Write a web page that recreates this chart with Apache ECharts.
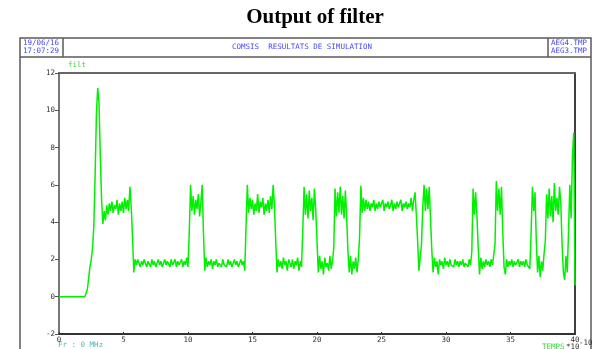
<!DOCTYPE html>
<html>
<head>
<meta charset="utf-8">
<title>Output of filter</title>
<script src="https://cdn.jsdelivr.net/npm/echarts@6/dist/echarts.min.js"></script>
<style>
  html,body{margin:0;padding:0;background:#fff;}
  #main{width:610px;height:349px;}
</style>
</head>
<body>
<div id="main"></div>
<script>
// axis ticks
var yTicks = [-2, 0, 2, 4, 6, 8, 10, 12];
var xTicks = [0, 5, 10, 15, 20, 25, 30, 35, 40];
// header texts
var headLeft = ['19/06/16', '17:07:29'];
var headRight = ['AEG4.TMP', 'AEG3.TMP'];
// one sample every 0.1 (x 1e-10 s)
var dt = 0.1;
var filt = [
  0,0,0,0,0,0,0,0,0,0,
  0,0,0,0,0,0,0,0,0,0,
  0,0,0.4,1.0,1.6,2.0,2.6,3.8,6.5,9.8,
  11.2,10.4,7.6,5.2,3.9,4.6,4.1,4.9,4.4,5.0,
  4.6,5.1,4.5,4.9,4.7,5.2,4.4,5.0,4.6,5.1,
  4.5,5.3,4.7,5.2,4.6,5.9,4.8,3.2,1.3,2.0,
  1.7,2.0,1.8,1.6,1.9,1.7,2.0,1.8,1.6,1.9,
  1.8,1.6,2.0,1.7,1.9,1.6,1.8,2.0,1.7,1.9,
  1.6,1.8,2.0,1.7,1.9,1.8,1.6,2.0,1.7,1.8,
  2.0,1.6,1.9,1.7,1.8,2.0,1.6,1.9,1.7,2.1,
  1.6,3.5,6.0,4.6,5.4,4.4,5.2,4.7,5.5,4.3,
  5.1,6.0,3.4,1.4,2.1,1.6,1.9,1.7,2.0,1.5,
  1.9,1.7,2.0,1.6,1.8,1.9,1.6,2.0,1.7,1.8,
  1.6,2.0,1.7,1.9,1.6,1.8,2.0,1.7,1.9,1.6,
  1.8,2.0,1.7,1.9,1.4,3.8,6.0,4.5,5.3,4.7,
  5.2,4.4,5.0,4.6,5.5,4.5,5.1,4.8,5.3,4.4,
  5.0,4.6,5.2,4.5,5.4,4.7,6.0,4.9,3.0,1.3,
  2.0,1.6,1.9,1.5,2.1,1.7,1.9,1.4,2.0,1.8,
  1.6,2.0,1.5,1.9,1.7,2.1,1.4,1.9,1.6,3.6,
  5.9,4.4,5.5,4.2,5.7,4.6,5.3,4.1,5.8,4.7,
  3.0,1.3,2.2,1.5,1.9,1.2,2.1,1.6,1.8,1.4,
  2.2,1.5,1.9,2.6,5.8,4.3,5.6,4.5,5.9,4.4,
  5.4,4.2,5.7,4.3,2.4,1.3,2.2,1.2,1.9,1.5,
  2.1,1.3,2.0,3.2,5.95,4.5,5.3,4.6,5.2,4.7,
  5.1,4.6,5.0,4.8,5.2,4.6,5.0,4.7,5.1,4.8,
  4.9,5.2,4.6,5.0,4.8,5.1,4.7,4.9,5.2,4.6,
  5.0,4.7,5.1,4.8,4.9,5.2,4.6,5.0,4.8,5.1,
  4.7,5.0,4.8,5.3,4.6,5.2,5.6,4.4,3.0,1.4,
  1.3,2.8,4.8,6.0,4.6,5.8,4.7,5.9,4.2,2.5,
  1.3,2.1,1.6,1.9,1.2,2.0,1.7,1.9,1.5,2.1,
  1.7,1.9,1.6,2.0,1.7,1.8,1.6,2.0,1.7,1.9,
  1.6,1.9,1.7,2.0,1.6,1.8,1.9,1.6,2.0,1.7,
  2.4,5.8,4.4,5.6,4.3,2.6,1.2,2.1,1.5,1.9,
  1.6,2.0,1.7,1.9,1.6,2.0,1.7,1.8,2.8,6.2,
  4.6,5.8,4.4,5.9,3.5,1.6,1.2,2.0,1.6,1.9,
  1.7,2.0,1.6,1.9,1.7,1.8,2.0,1.6,1.9,1.7,
  1.9,1.6,2.0,1.7,1.8,1.5,3.5,5.9,4.6,5.6,
  3.0,1.3,2.2,1.05,1.9,1.4,2.3,3.0,5.5,4.2,
  5.8,4.3,5.4,4.0,6.1,4.6,5.3,4.4,5.9,5.0,
  2.8,1.3,0.9,2.2,1.3,3.5,6.0,4.2,7.5,8.8,
  0.6
];

var pts = [];
for (var i = 0; i < filt.length; i++) {
  pts.push([Math.round(i * dt * 10) / 10, filt[i]]);
}

var mono = 'DejaVu Sans Mono';
var frame = '#5a5a5a';
var blue = '#4646ff';
var myChart = echarts.init(document.getElementById('main'));

// small mono text, anchored at x/y
function smallText(x, y, txt, color, align) {
  return {
    type: 'text', x: x, y: y, silent: true,
    style: {text: txt, fill: color, font: '7.5px "' + mono + '"', align: align || 'left', verticalAlign: 'middle'}
  };
}

var graphics = [
  // title
  {type: 'text', x: 315, y: 18, silent: true,
   style: {text: 'Output of filter', fill: '#000', font: 'bold 21px "Liberation Serif"', align: 'center', verticalAlign: 'middle'}},
  // outer frame + header
  {type: 'polyline', silent: true, shape: {points: [[20, 349], [20, 38], [591, 38], [591, 349]]},
   style: {stroke: frame, lineWidth: 1.5, fill: null}},
  {type: 'line', silent: true, shape: {x1: 20, y1: 57, x2: 591, y2: 57}, style: {stroke: frame, lineWidth: 1.5}},
  {type: 'line', silent: true, shape: {x1: 63, y1: 38, x2: 63, y2: 57}, style: {stroke: frame, lineWidth: 1.5}},
  {type: 'line', silent: true, shape: {x1: 548, y1: 38, x2: 548, y2: 57}, style: {stroke: frame, lineWidth: 1.5}},
  smallText(23, 43, headLeft[0], blue),
  smallText(23, 51, headLeft[1], blue),
  smallText(302, 47, 'COMSIS  RESULTATS DE SIMULATION', blue, 'center'),
  smallText(551, 43, headRight[0], blue),
  smallText(551, 51, headRight[1], blue),
  // series / axis names
  smallText(68, 65, 'filt', '#33dd33'),
  smallText(58, 345, 'Fr : 0 MHz', '#44bbbb'),
  smallText(542, 347, 'TEMPS', '#33dd33'),
  smallText(566, 347, '*10', '#333'),
  smallText(579, 343, '-10', '#333')
];

var option = {
  backgroundColor: '#fff',
  animation: false,
  grid: {left: 59, top: 73, right: 35, bottom: 15, containLabel: false},
  xAxis: [{
    type: 'value', min: xTicks[0], max: xTicks[xTicks.length - 1], interval: 5,
    axisLine: {show: true, onZero: false, lineStyle: {color: '#333', width: 2}},
    axisTick: {show: true, inside: true, length: 2, lineStyle: {color: '#333'}},
    axisLabel: {color: '#333', fontSize: 7.5, fontFamily: mono, margin: 2},
    splitLine: {show: false}
  }, {
    type: 'value', position: 'top', min: 0, max: 40,
    axisLine: {show: true, onZero: false, lineStyle: {color: '#666', width: 2}},
    axisTick: {show: false}, axisLabel: {show: false}, splitLine: {show: false}
  }],
  yAxis: [{
    type: 'value', min: yTicks[0], max: yTicks[yTicks.length - 1], interval: 2,
    axisLine: {show: true, onZero: false, lineStyle: {color: '#777', width: 2}},
    axisTick: {show: true, length: 4, lineStyle: {color: '#555'}},
    axisLabel: {color: '#333', fontSize: 7.5, fontFamily: mono, margin: 4},
    splitLine: {show: false}
  }, {
    type: 'value', position: 'right', min: -2, max: 12,
    axisLine: {show: true, onZero: false, lineStyle: {color: '#000', width: 1.5}},
    axisTick: {show: false}, axisLabel: {show: false}, splitLine: {show: false}
  }],
  graphic: graphics,
  series: [{
    name: 'filt',
    type: 'line',
    data: pts,
    showSymbol: false,
    symbol: 'none',
    clip: true,
    lineStyle: {color: '#00f000', width: 1.5},
    z: 3
  }]
};
myChart.setOption(option);
</script>
</body>
</html>
